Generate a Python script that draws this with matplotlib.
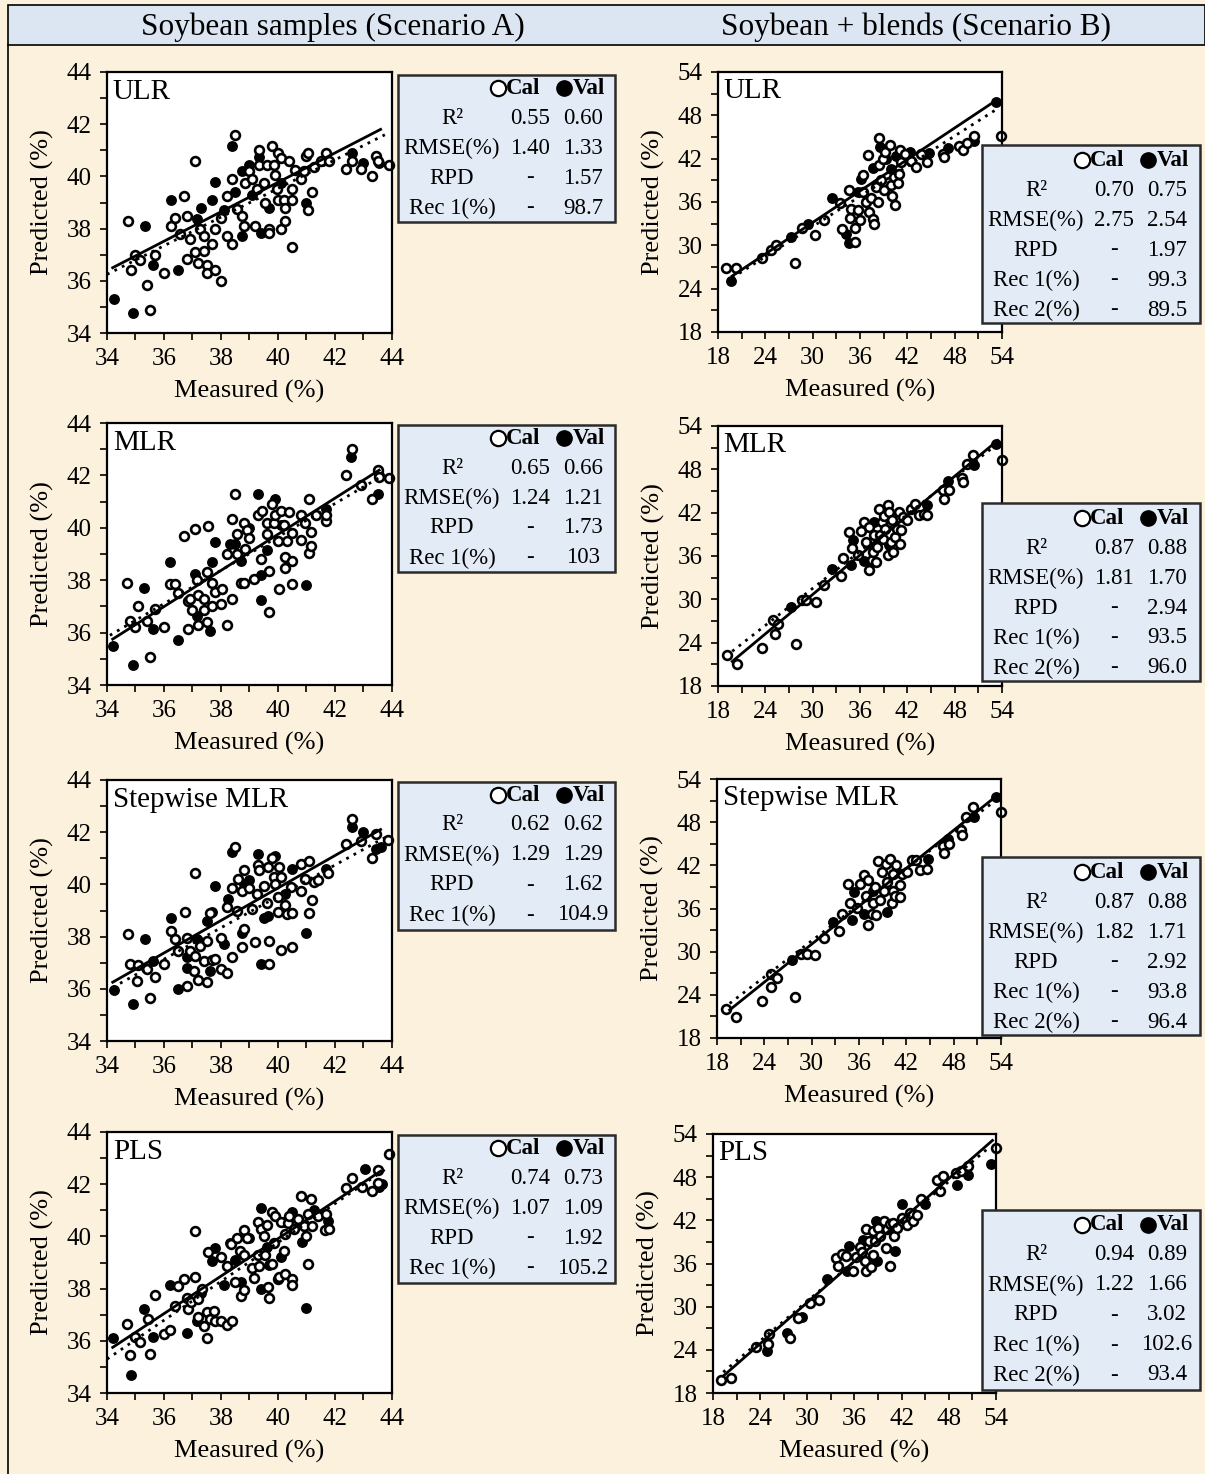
import numpy as np
import matplotlib
matplotlib.use("Agg")
import matplotlib.pyplot as plt
from matplotlib.patches import Rectangle
from matplotlib.lines import Line2D
from matplotlib.ticker import MultipleLocator

W, H = 1205, 1474
plt.rcParams['font.family'] = ['Liberation Serif', 'DejaVu Serif']

col_titles = ["Soybean samples (Scenario A)", "Soybean + blends (Scenario B)"]
models = ["ULR", "MLR", "Stepwise MLR", "PLS"]
stat_labels_a = ["R²", "RMSE(%)", "RPD", "Rec 1(%)"]
stat_labels_b = ["R²", "RMSE(%)", "RPD", "Rec 1(%)", "Rec 2(%)"]

# ---- Scenario A (soybean samples): measured, predicted ----
A_ULR_CAL = [(34.75,38.3),(34.85,36.4),(35.0,37.0),(35.15,36.8),(35.4,35.85),(35.5,34.9),(35.7,37.0),(36.0,36.3),
             (36.25,38.1),(36.4,38.4),(36.55,37.8),(36.7,39.25),(36.8,38.5),(36.9,37.6),(37.1,40.6),(36.8,36.85),
             (37.1,37.1),(37.2,36.7),(37.25,38.0),(37.4,37.7),(37.4,37.15),(37.5,36.6),(37.5,36.3),(37.7,37.4),
             (37.8,38.0),(37.8,36.4),(38.0,36.0),(38.0,38.4),(38.2,37.7),(38.2,39.25),(38.4,37.4),(38.4,39.9),
             (38.5,41.6),(38.55,38.75),(38.75,38.5),(38.8,38.1),(38.85,39.75),(39.0,40.2),(39.1,39.9),(39.2,38.1),
             (39.25,39.5),(39.35,41.0),(39.35,40.45),(39.5,39.75),(39.55,39.0),(39.6,40.45),(39.7,38.0),(39.7,37.85),
             (39.8,41.15),(39.85,40.45),(39.9,40.05),(39.95,39.5),(40.0,40.9),(40.0,39.1),(40.1,38.0),(40.1,40.7),
             (40.2,39.1),(40.25,38.8),(40.25,38.3),(40.4,40.6),(40.5,39.5),(40.5,39.1),(40.5,37.3),(40.6,40.25),
             (40.8,39.9),(40.9,40.2),(41.0,40.8),(41.05,40.9),(41.05,38.7),(41.2,39.4),(41.25,40.35),(41.5,40.6),
             (41.7,40.9),(41.8,40.6),(42.4,40.3),(42.6,40.6),(42.9,40.3),(43.3,40.0),(43.45,40.8),(43.5,40.6),(43.9,40.45)]
A_ULR_VAL = [(34.25,35.3),(34.9,34.75),(35.35,38.1),(35.6,36.6),(36.5,36.4),(36.25,39.1),(37.3,38.8),(37.15,38.35),
             (37.7,39.1),(37.8,39.8),(38.1,38.7),(38.4,41.15),(38.5,39.4),(38.75,37.7),(38.75,40.2),(39.0,40.45),
             (39.1,39.3),(39.4,37.85),(39.35,40.75),(39.7,38.8),(40.1,39.75),(41.0,39.0),(42.6,40.9),(43.0,40.5),(43.55,40.5)]

A_MLR_CAL = [(34.7,37.9),(34.8,36.45),(35.0,36.2),(35.1,37.0),(35.4,36.45),(35.5,35.05),(35.7,36.9),(36.0,36.2),
             (36.2,37.85),(36.4,37.85),(36.5,37.5),(36.7,39.7),(36.85,37.2),(36.85,36.15),(36.9,37.3),(37.0,36.85),
             (37.1,39.95),(37.15,38.0),(37.2,36.3),(37.2,37.45),(37.4,37.3),(37.4,36.85),(37.5,36.4),(37.5,38.3),
             (37.55,40.05),(37.7,37.9),(37.7,37.0),(37.8,37.55),(38.0,37.1),(38.05,37.65),(38.2,36.3),(38.2,39.0),
             (38.4,37.3),(38.4,40.35),(38.5,41.3),(38.55,39.0),(38.55,39.75),(38.7,37.9),(38.8,37.9),(38.8,40.2),
             (38.85,39.2),(38.9,39.9),(39.0,39.6),(39.15,38.05),(39.3,40.5),(39.4,38.8),(39.45,40.65),(39.6,39.75),
             (39.6,40.2),(39.7,36.8),(39.7,38.35),(39.8,40.9),(39.85,40.2),(39.9,40.5),(40.0,39.5),(40.05,37.65),
             (40.1,40.65),(40.2,40.1),(40.25,38.9),(40.25,38.45),(40.3,39.5),(40.4,40.6),(40.5,37.85),(40.5,38.75),
             (40.5,39.8),(40.8,39.55),(40.8,40.5),(40.95,40.2),(41.1,39.05),(41.1,41.1),(41.15,39.3),(41.15,39.85),
             (41.35,40.5),(41.7,40.25),(41.7,40.5),(42.4,42.0),(42.6,43.0),(42.9,41.65),(43.3,41.1),(43.5,42.2),
             (43.55,41.95),(43.9,41.9)]
A_MLR_VAL = [(34.2,35.5),(34.9,34.75),(35.3,37.7),(35.6,36.15),(36.2,38.7),(36.5,35.7),(37.1,38.25),(37.15,36.65),
             (37.6,36.05),(37.7,38.7),(37.8,39.45),(38.3,39.4),(38.5,39.4),(38.7,38.75),(39.0,40.0),(39.3,41.3),
             (39.4,38.2),(39.4,37.25),(39.6,39.15),(39.9,41.1),(40.1,40.1),(41.0,37.8),(41.7,40.7),(42.55,42.7),
             (43.5,41.3),(43.55,42.0)]

A_STEP_CAL = [(34.75,38.1),(34.8,36.95),(35.05,36.3),(35.1,36.9),(35.4,36.75),(35.5,35.65),(35.7,36.45),(36.0,36.95),
              (36.25,38.2),(36.4,37.9),(36.5,37.45),(36.75,38.95),(36.8,36.1),(36.8,37.95),(36.9,37.45),(37.05,36.7),
              (37.1,40.45),(37.1,37.25),(37.2,36.35),(37.25,37.65),(37.4,37.05),(37.5,37.85),(37.5,36.25),(37.6,38.9),
              (37.7,37.1),(37.8,37.15),(38.0,37.95),(38.0,36.75),(38.2,36.6),(38.2,39.15),(38.4,37.2),(38.4,39.85),
              (38.5,41.45),(38.55,39.0),(38.6,40.2),(38.75,37.6),(38.75,39.75),(38.8,38.3),(38.8,40.55),(39.0,39.85),
              (39.1,39.05),(39.2,37.8),(39.25,39.65),(39.3,40.75),(39.35,40.55),(39.5,39.95),(39.6,39.3),(39.65,40.65),
              (39.7,37.85),(39.7,36.95),(39.8,41.0),(39.85,40.3),(39.9,40.0),(40.0,39.5),(40.0,38.95),(40.05,40.65),
              (40.1,37.5),(40.1,40.3),(40.25,39.2),(40.3,38.85),(40.45,39.9),(40.5,38.9),(40.5,37.6),(40.8,40.8),
              (40.8,39.75),(40.95,40.2),(41.1,40.9),(41.1,38.9),(41.2,39.4),(41.25,40.1),(41.4,40.15),(41.75,40.45),
              (42.4,41.55),(42.6,42.5),(42.9,41.65),(43.3,41.0),(43.45,41.95),(43.85,41.7)]
A_STEP_VAL = [(34.25,35.95),(34.9,35.4),(35.35,37.9),(35.6,37.05),(36.25,38.7),(36.5,36.0),(36.8,37.2),(36.8,36.8),
              (37.15,37.9),(37.5,38.6),(37.7,38.95),(37.6,36.7),(37.8,39.95),(38.1,37.7),(38.25,39.45),(38.4,41.25),
              (38.75,38.15),(38.8,40.0),(39.0,40.15),(39.3,41.15),(39.4,36.95),(39.5,38.7),(39.65,38.8),(39.9,41.1),
              (40.25,39.65),(40.5,40.6),(41.0,38.15),(41.7,40.6),(42.6,42.2),(43.0,42.0),(43.45,41.35),(43.6,41.45)]

A_PLS_CAL = [(34.7,36.65),(34.8,35.45),(35.0,36.15),(35.15,35.95),(35.45,36.85),(35.5,35.5),(35.7,37.75),(36.0,36.25),
             (36.2,36.4),(36.4,37.35),(36.5,38.1),(36.7,38.35),(36.8,37.65),(36.85,37.2),(36.95,37.5),(37.1,38.45),
             (37.1,40.2),(37.2,37.6),(37.2,36.9),(37.35,38.0),(37.4,36.55),(37.5,36.1),(37.5,37.1),(37.55,39.4),
             (37.6,36.85),(37.75,37.15),(37.8,36.75),(38.0,36.75),(38.0,39.2),(38.2,36.6),(38.2,38.85),(38.35,39.7),
             (38.4,36.75),(38.5,38.25),(38.55,39.95),(38.65,39.45),(38.7,37.7),(38.8,40.25),(38.8,37.95),(38.8,39.3),
             (38.9,39.95),(39.1,38.8),(39.15,38.4),(39.3,39.3),(39.3,40.55),(39.35,38.85),(39.4,40.3),(39.5,40.0),
             (39.55,39.3),(39.6,40.45),(39.65,38.05),(39.7,37.65),(39.8,40.95),(39.8,38.95),(39.85,39.75),(39.9,40.8),
             (40.0,38.35),(40.05,38.45),(40.1,40.55),(40.2,39.45),(40.25,38.55),(40.25,40.1),(40.35,40.5),(40.4,40.8),
             (40.5,38.35),(40.5,38.15),(40.55,40.3),(40.7,40.65),(40.8,41.55),(40.9,40.4),(41.0,40.0),(41.05,40.85),
             (41.05,38.95),(41.15,41.45),(41.2,40.4),(41.4,40.8),(41.65,40.25),(41.7,40.85),(41.8,40.3),(42.4,41.85),
             (42.6,42.25),(42.95,41.9),(43.3,41.75),(43.5,42.05),(43.5,42.55),(43.9,43.15)]
A_PLS_VAL = [(34.2,36.1),(34.85,34.7),(35.3,37.2),(35.6,36.15),(36.2,38.15),(36.8,36.3),(37.15,36.75),(37.3,37.85),
             (37.7,39.05),(37.8,39.55),(38.1,38.15),(38.3,39.75),(38.5,39.1),(38.7,38.25),(39.0,39.95),(39.4,41.1),
             (39.4,38.0),(39.6,39.6),(39.7,38.9),(40.1,39.2),(40.2,40.55),(40.5,40.95),(40.85,39.8),(41.0,37.25),
             (41.25,41.0),(41.75,40.6),(43.05,42.6),(43.55,41.9),(43.65,42.0)]

# ---- Scenario B (soybean + blends) ----
B_ULR_CAL = [(19.0,26.9),(20.3,26.8),(23.55,28.25),(24.75,29.4),(25.3,30.0),(27.8,27.5),(28.6,32.45),(30.3,31.5),
             (31.5,33.5),(33.45,35.9),(33.7,32.2),(34.55,37.6),(34.75,33.8),(34.85,35.0),(35.4,32.45),(35.4,30.45),
             (35.7,34.85),(36.0,33.55),(36.4,39.7),(36.4,37.4),(36.7,36.0),(37.0,42.55),(37.2,34.6),(37.4,36.5),
             (37.6,33.7),(37.8,33.0),(38.05,38.1),(38.25,36.0),(38.4,44.8),(38.45,41.1),(38.7,39.0),(38.9,42.0),
             (39.1,37.6),(39.2,42.9),(39.75,43.85),(39.95,38.3),(40.1,36.9),(40.25,39.5),(40.5,35.65),(40.8,38.6),
             (41.0,39.9),(41.1,43.15),(41.2,41.5),(41.65,42.7),(42.5,41.65),(43.1,40.85),(43.75,42.7),(44.5,41.55),
             (46.5,42.7),(46.7,42.25),(48.55,43.75),(49.05,43.15),(49.55,44.2),(50.4,45.2),(53.9,45.1)]
B_ULR_VAL = [(19.65,25.1),(27.2,31.2),(29.35,32.9),(32.5,36.55),(34.2,31.6),(34.65,30.3),(35.7,37.4),(36.1,39.25),
             (37.6,40.7),(38.5,43.6),(39.3,42.0),(39.95,40.6),(40.6,42.4),(42.3,42.9),(44.8,42.8),(47.1,43.5),
             (50.5,44.4),(53.3,49.85)]

B_MLR_CAL = [(19.2,22.35),(20.45,21.1),(23.6,23.2),(25.0,27.15),(25.2,25.2),(25.65,26.65),(27.95,23.8),(28.7,29.85),
             (29.2,29.85),(30.4,29.6),(31.45,31.95),(33.55,33.3),(33.85,35.7),(34.6,39.3),(34.95,37.1),(35.7,36.1),
             (36.1,39.45),(36.5,40.7),(36.75,37.95),(37.1,40.0),(37.15,34.0),(37.5,35.4),(37.6,36.55),(37.8,38.95),
             (38.0,35.2),(38.2,37.25),(38.4,42.45),(38.5,38.95),(38.75,40.7),(38.95,38.4),(39.05,41.6),(39.2,39.8),
             (39.5,43.1),(39.5,36.1),(39.7,42.1),(39.9,37.95),(40.1,40.95),(40.2,36.55),(40.45,38.6),(40.65,39.8),
             (41.0,42.1),(41.05,37.7),(41.2,39.65),(41.4,41.4),(42.0,40.95),(42.45,42.55),(43.0,43.25),(43.5,41.65),
             (44.05,41.75),(44.55,41.65),(46.5,45.2),(46.7,43.85),(47.3,45.1),(48.9,46.85),(49.1,46.25),(49.55,48.7),
             (50.3,50.05),(54.0,49.35)]
B_MLR_VAL = [(27.2,28.95),(32.5,34.25),(34.85,34.7),(35.05,38.2),(36.5,35.3),(37.8,40.7),(38.0,37.5),(39.7,37.5),
             (44.55,43.0),(47.2,46.4),(50.4,48.65),(53.2,51.55)]

B_STEP_CAL = [(19.1,22.1),(20.4,20.95),(23.65,23.15),(24.9,26.9),(24.9,25.05),(25.55,26.3),(27.85,23.75),(28.6,29.65),
              (29.35,29.65),(30.4,29.6),(31.6,31.85),(33.45,32.9),(33.9,35.2),(34.65,39.35),(34.85,36.8),(35.7,36.1),
              (36.15,39.45),(36.65,40.7),(36.9,37.7),(37.2,39.9),(37.2,33.7),(37.6,35.2),(37.8,36.7),(38.0,39.0),
              (38.1,35.05),(38.45,42.6),(38.7,37.15),(38.9,41.05),(39.2,38.45),(39.45,42.2),(39.6,39.7),(39.95,42.9),
              (40.15,36.7),(40.3,40.75),(40.35,38.5),(40.6,37.7),(40.7,42.0),(41.15,39.2),(41.2,37.6),(41.45,40.75),
              (42.05,41.05),(42.7,42.75),(43.25,42.75),(43.75,41.3),(44.6,41.5),(46.6,44.75),(46.8,43.7),(47.35,44.9),
              (48.95,46.85),(49.05,46.15),(49.6,48.7),(50.45,50.05),(54.0,49.4)]
B_STEP_VAL = [(27.45,28.8),(32.65,34.15),(35.1,34.45),(35.4,38.3),(36.65,35.2),(37.8,38.5),(39.55,35.5),(40.8,37.6),
              (44.8,42.9),(47.25,45.7),(50.55,48.7),(53.4,51.45)]

B_PLS_CAL = [(19.05,19.75),(20.25,20.1),(23.5,24.35),(25.1,26.15),(25.0,24.85),(27.75,25.65),(28.8,28.45),(30.3,30.5),
             (31.5,30.9),(33.6,36.7),(33.9,35.6),(34.45,37.3),(34.9,37.0),(35.8,34.9),(36.25,36.9),(36.7,38.25),
             (36.9,37.6),(37.3,36.3),(37.45,34.9),(37.5,40.85),(37.85,39.1),(38.15,35.5),(38.35,40.5),(38.35,37.25),
             (38.6,39.1),(39.0,40.95),(39.2,39.8),(39.75,41.85),(40.0,38.2),(40.1,40.85),(40.5,41.5),(40.5,35.7),
             (40.85,41.65),(41.0,39.8),(41.4,40.95),(42.0,42.35),(42.7,41.3),(43.05,43.0),(43.45,41.85),(43.9,42.8),
             (44.5,45.0),(46.45,47.65),(46.85,46.05),(47.3,48.1),(48.95,48.6),(49.6,48.8),(50.45,49.5),(54.05,52.05)]
B_PLS_VAL = [(24.9,23.8),(29.35,28.6),(27.4,26.35),(32.5,33.9),(35.0,34.9),(35.3,38.4),(37.1,39.2),(37.6,36.2),
             (38.7,41.9),(38.8,36.3),(41.1,37.7),(42.0,44.3),(44.95,44.3),(47.3,48.0),(49.05,46.95),(50.45,48.25),
             (53.4,49.85)]

# fitted lines: (intercept, slope) and measured range
A_SOLID_FIT = [(17.22, 0.5638), (12.16, 0.6898), (14.97, 0.6223), (11.19, 0.7181)]
A_SOLID_RANGE = [(34.2, 43.6), (34.2, 43.55), (34.2, 43.6), (34.2, 43.6)]
A_DOT_FIT = [(17.59, 0.5487), (14.18, 0.6368), (15.50, 0.6010), (9.97, 0.7449)]
A_DOT_RANGE = [(34.0, 43.75), (34.1, 43.6), (34.2, 43.85), (34.0, 43.8)]
B_SOLID_FIT = [(11.36, 0.7269), (3.39, 0.9094), (4.66, 0.8794), (1.90, 0.9562)]
B_SOLID_RANGE = [(19.8, 53.3), (19.8, 53.45), (19.6, 53.6), (19.3, 53.55)]
B_DOT_FIT = [(11.71, 0.6964), (5.89, 0.8542), (6.40, 0.8368), (3.08, 0.9233)]
B_DOT_RANGE = [(19.8, 53.4), (19.8, 53.4), (19.6, 53.3), (19.3, 53.2)]

A_CAL_STATS = [["0.55", "1.40", "-", "-"], ["0.65", "1.24", "-", "-"],
               ["0.62", "1.29", "-", "-"], ["0.74", "1.07", "-", "-"]]
A_VAL_STATS = [["0.60", "1.33", "1.57", "98.7"], ["0.66", "1.21", "1.73", "103"],
               ["0.62", "1.29", "1.62", "104.9"], ["0.73", "1.09", "1.92", "105.2"]]
B_CAL_STATS = [["0.70", "2.75", "-", "-", "-"], ["0.87", "1.81", "-", "-", "-"],
               ["0.87", "1.82", "-", "-", "-"], ["0.94", "1.22", "-", "-", "-"]]
B_VAL_STATS = [["0.75", "2.54", "1.97", "99.3", "89.5"], ["0.88", "1.70", "2.94", "93.5", "96.0"],
               ["0.88", "1.71", "2.92", "93.8", "96.4"], ["0.89", "1.66", "3.02", "102.6", "93.4"]]

# layout in pixels (left, top, right, bottom)
axes_a = [(107, 72, 392, 333), (107, 423, 392, 685), (107, 780, 392, 1041), (107, 1132, 392, 1393)]
axes_b = [(718, 72, 1002, 332), (718, 426, 1002, 686), (717, 779, 1001, 1038), (713, 1134, 996, 1393)]
boxes_a = [(398, 75, 615, 222), (398, 425, 615, 572), (398, 782, 615, 930), (398, 1135, 615, 1283)]
boxes_b = [(982, 145, 1200, 323), (982, 503, 1200, 681), (982, 857, 1200, 1035), (982, 1210, 1200, 1390)]

BG = "#FBF1DD"
HEAD = "#DCE6F2"
BOXC = "#E3EBF6"

fig = plt.figure(figsize=(W / 100, H / 100), dpi=100)
fig.patch.set_facecolor(BG)


def fx(x):
    return x / W


def fy(y):
    return 1 - y / H


# header band and frame
fig.add_artist(Rectangle((fx(8), fy(45)), fx(W - 8), 40 / H, transform=fig.transFigure,
                         facecolor=HEAD, edgecolor="black", lw=1.2))
fig.add_artist(Line2D([fx(8), fx(8)], [fy(45), 0], transform=fig.transFigure, color="black", lw=1.2))
fig.text(fx(333), fy(27), col_titles[0], ha="center", va="center", fontsize=22.5)
fig.text(fx(916), fy(27), col_titles[1], ha="center", va="center", fontsize=22.5)


def draw_panel(rect, lo, hi, major, minor, cal, val, sfit, srng, dfit, drng, name):
    l, t, r, b = rect
    ax = fig.add_axes([fx(l), fy(b), (r - l) / W, (b - t) / H])
    ax.set_facecolor("white")
    cal = np.array(cal)
    val = np.array(val)
    ax.scatter(val[:, 0], val[:, 1], s=44, c="black", edgecolors="black", linewidths=1.2, zorder=2, clip_on=False)
    ax.scatter(cal[:, 0], cal[:, 1], s=40, facecolors="white", edgecolors="black", linewidths=1.9, zorder=2,
               clip_on=False)
    xs = np.array(srng)
    ax.plot(xs, sfit[0] + sfit[1] * xs, color="black", lw=2.0, zorder=3)
    xd = np.array(drng)
    ax.plot(xd, dfit[0] + dfit[1] * xd, color="black", lw=2.0, ls=(0, (1, 2)), zorder=3)
    ax.set_xlim(lo, hi)
    ax.set_ylim(lo, hi)
    ax.xaxis.set_major_locator(MultipleLocator(major))
    ax.yaxis.set_major_locator(MultipleLocator(major))
    ax.xaxis.set_minor_locator(MultipleLocator(minor))
    ax.yaxis.set_minor_locator(MultipleLocator(minor))
    ax.tick_params(which="both", direction="out", length=5, width=1.2, labelsize=18, pad=6)
    for sp in ax.spines.values():
        sp.set_linewidth(1.6)
    ax.text(0.02, 0.975, name, transform=ax.transAxes, ha="left", va="top", fontsize=21, zorder=4)
    fig.text(fx((l + r) / 2), fy(b + 58), "Measured (%)", ha="center", va="center", fontsize=19)
    fig.text(fx(l - 65), fy((t + b) / 2), "Predicted (%)", ha="center", va="center", rotation=90, fontsize=19)


def draw_box(rect, labels, cal_vals, val_vals, top_off):
    l, t, r, b = rect
    fig.add_artist(Rectangle((fx(l), fy(b)), (r - l) / W, (b - t) / H, transform=fig.transFigure,
                             facecolor=BOXC, edgecolor="#2b2b2b", lw=1.8, zorder=5))
    hy = fy(t + top_off)
    fig.add_artist(Line2D([fx(l + 100)], [hy], marker="o", ms=11, mfc="white", mec="black", mew=1.6,
                          transform=fig.transFigure, zorder=6))
    fig.text(fx(l + 108), hy, "Cal", ha="left", va="center", fontsize=16.5, fontweight="bold", zorder=6)
    fig.add_artist(Line2D([fx(l + 166)], [hy], marker="o", ms=11, mfc="black", mec="black",
                          transform=fig.transFigure, zorder=6))
    fig.text(fx(l + 175), hy, "Val", ha="left", va="center", fontsize=16.5, fontweight="bold", zorder=6)
    for i, lab in enumerate(labels):
        yy = fy(t + top_off + 30 * (i + 1))
        fig.text(fx(l + 54), yy, lab, ha="center", va="center", fontsize=16.5, zorder=6)
        fig.text(fx(l + 132), yy, cal_vals[i], ha="center", va="center", fontsize=16.5, zorder=6)
        fig.text(fx(l + 185), yy, val_vals[i], ha="center", va="center", fontsize=16.5, zorder=6)


cal_a = [A_ULR_CAL, A_MLR_CAL, A_STEP_CAL, A_PLS_CAL]
val_a = [A_ULR_VAL, A_MLR_VAL, A_STEP_VAL, A_PLS_VAL]
cal_b = [B_ULR_CAL, B_MLR_CAL, B_STEP_CAL, B_PLS_CAL]
val_b = [B_ULR_VAL, B_MLR_VAL, B_STEP_VAL, B_PLS_VAL]

for k in range(4):
    draw_panel(axes_a[k], 34, 44, 2, 1, cal_a[k], val_a[k], A_SOLID_FIT[k], A_SOLID_RANGE[k],
               A_DOT_FIT[k], A_DOT_RANGE[k], models[k])
    draw_panel(axes_b[k], 18, 54, 6, 3, cal_b[k], val_b[k], B_SOLID_FIT[k], B_SOLID_RANGE[k],
               B_DOT_FIT[k], B_DOT_RANGE[k], models[k])
    draw_box(boxes_a[k], stat_labels_a, A_CAL_STATS[k], A_VAL_STATS[k], 13)
    draw_box(boxes_b[k], stat_labels_b, B_CAL_STATS[k], B_VAL_STATS[k], 15)

fig.savefig("out.png", dpi=100, facecolor=BG)
